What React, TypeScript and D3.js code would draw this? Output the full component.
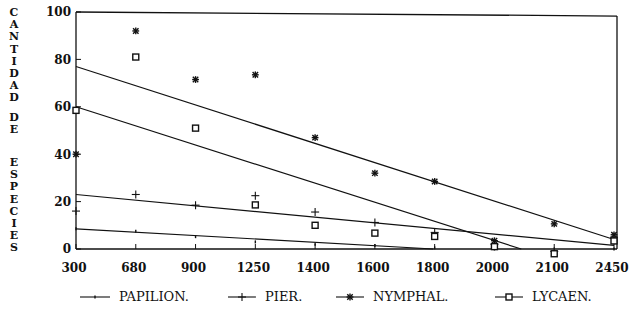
import * as d3 from 'd3';

// altitud (m) – categorías del eje X
const altitudes = ['300', '680', '900', '1250', '1400', '1600', '1800', '2000', '2100', '2450'];
const yTicks = [0, 20, 40, 60, 80, 100];

// número de especies por familia
const papilion = [8.5, 7.5, 5.2, 3, 2, 1.5, 0.5, 0, -1, 0];
const pier = [16, 23, 18.5, 22.5, 15.6, 11.2, 7, 2, -1, 5];
const nymphal = [40, 92, 71.5, 73.5, 47, 32, 28.5, 3.5, 10.6, 6];
const lycaen = [58.5, 81, 51, 18.6, 10, 6.7, 5.3, 1, -2, 3.4];

// rectas de regresión: valor en 300 y en 2450
const fitStart = [8.5, 23, 77, 60];
const fitEnd = [-4.3, 1.5, 4, -12.5];

const seriesNames = ['PAPILION.', 'PIER.', 'NYMPHAL.', 'LYCAEN.'];
const seriesData = [papilion, pier, nymphal, lycaen];

const yTitleWords = ['CANTIDAD', 'DE', 'ESPECIES'];

const W = 633;
const H = 333;
const margin = { left: 76, right: 19, top: 12, bottom: 84 };
const plotRight = 617;

const serif = '"DejaVu Serif", "Liberation Serif", serif';

function Marker({ kind, x, y }: { kind: number; x: number; y: number }) {
  if (kind === 0) {
    return <line x1={x} x2={x} y1={y - 1.5} y2={y + 1.5} stroke="#111" strokeWidth={1.4} />;
  }
  if (kind === 1) {
    return (
      <g stroke="#111" strokeWidth={1.1}>
        <line x1={x - 4} x2={x + 4} y1={y} y2={y} />
        <line x1={x} x2={x} y1={y - 4} y2={y + 4} />
      </g>
    );
  }
  if (kind === 2) {
    const r = 3.4;
    return (
      <g stroke="#111" strokeWidth={1.4}>
        <line x1={x - r} x2={x + r} y1={y} y2={y} />
        <line x1={x} x2={x} y1={y - r} y2={y + r} />
        <line x1={x - r * 0.8} x2={x + r * 0.8} y1={y - r * 0.8} y2={y + r * 0.8} />
        <line x1={x - r * 0.8} x2={x + r * 0.8} y1={y + r * 0.8} y2={y - r * 0.8} />
      </g>
    );
  }
  return <rect x={x - 3} y={y - 3} width={6} height={6} fill="white" stroke="#111" strokeWidth={1.4} />;
}

export default function App() {
  const n = altitudes.length;
  const x = d3.scalePoint<string>().domain(altitudes).range([margin.left, 614]);
  const xIdx = d3.scaleLinear().domain([0, n - 1]).range([margin.left, 614]);
  const y = d3.scaleLinear().domain([0, 100]).range([H - margin.bottom, margin.top]);
  const y0 = y(0);

  // recortar cada recta donde corta el cero
  const fits = fitStart.map((a, i) => {
    const b = fitEnd[i];
    const slope = (b - a) / (n - 1);
    const tEnd = b >= 0 ? n - 1 : -a / slope;
    return { x1: xIdx(0), y1: y(a), x2: xIdx(tEnd), y2: y(a + slope * tEnd) };
  });

  const legendX = [80, 228, 336, 495];
  const legendY = 301;

  return (
    <svg width={W} height={H} style={{ position: 'absolute', left: 0, top: 0, background: 'white' }}>
      <rect width={W} height={H} fill="white" />

      {/* marco */}
      <g stroke="#111" strokeWidth={1.3} fill="none">
        <line x1={margin.left} x2={margin.left} y1={y(100)} y2={y0} />
        <line x1={margin.left} x2={plotRight} y1={y0} y2={y0} />
        <line x1={margin.left} x2={plotRight} y1={y(100)} y2={y(98.3)} />
        <line x1={plotRight} x2={plotRight} y1={y(98.3)} y2={y0} />
      </g>

      {/* ticks Y */}
      {yTicks.map((t) => (
        <g key={t}>
          <line x1={margin.left} x2={margin.left + 5} y1={y(t)} y2={y(t)} stroke="#111" strokeWidth={1} />
          <text
            x={margin.left - 5}
            y={y(t)}
            dy="0.36em"
            textAnchor="end"
            fontFamily={serif}
            fontWeight="bold"
            fontSize={12}
            fill="#111"
          >
            {t}
          </text>
        </g>
      ))}

      {/* ticks X */}
      {altitudes.map((a) => (
        <g key={a}>
          <line x1={x(a)} x2={x(a)} y1={y0} y2={y0 - 5} stroke="#111" strokeWidth={1} />
          <text
            x={x(a)! - 2}
            y={y0 + 23}
            textAnchor="middle"
            fontFamily={serif}
            fontWeight="bold"
            fontSize={12}
            fill="#111"
          >
            {a}
          </text>
        </g>
      ))}

      {/* título eje Y, letra por letra */}
      {yTitleWords.map((w, wi) => {
        const starts = [12, 117, 162];
        return w.split('').map((ch, ci) => (
          <text
            key={`${wi}-${ci}`}
            x={14}
            y={starts[wi] + ci * 12.2}
            dy="0.36em"
            textAnchor="middle"
            fontFamily={serif}
            fontWeight="bold"
            fontSize={11}
            fill="#111"
          >
            {ch}
          </text>
        ));
      })}

      {/* rectas */}
      {fits.map((f, i) => (
        <line key={i} x1={f.x1} y1={f.y1} x2={f.x2} y2={f.y2} stroke="#111" strokeWidth={1.2} />
      ))}

      {/* puntos */}
      {seriesData.map((vals, si) =>
        vals.map((v, i) => <Marker key={`${si}-${i}`} kind={si} x={x(altitudes[i])!} y={y(v)} />)
      )}

      {/* leyenda */}
      {seriesNames.map((name, i) => {
        const lx = legendX[i];
        const len = i === 0 ? 30 : 28;
        return (
          <g key={name}>
            <line x1={lx} x2={lx + len} y1={legendY - 4} y2={legendY - 4} stroke="#111" strokeWidth={1.1} />
            <Marker kind={i} x={lx + len / 2} y={legendY - 4} />
            <text x={lx + len + 9} y={legendY} fontFamily={serif} fontSize={13} fill="#111">
              {name}
            </text>
          </g>
        );
      })}
    </svg>
  );
}
